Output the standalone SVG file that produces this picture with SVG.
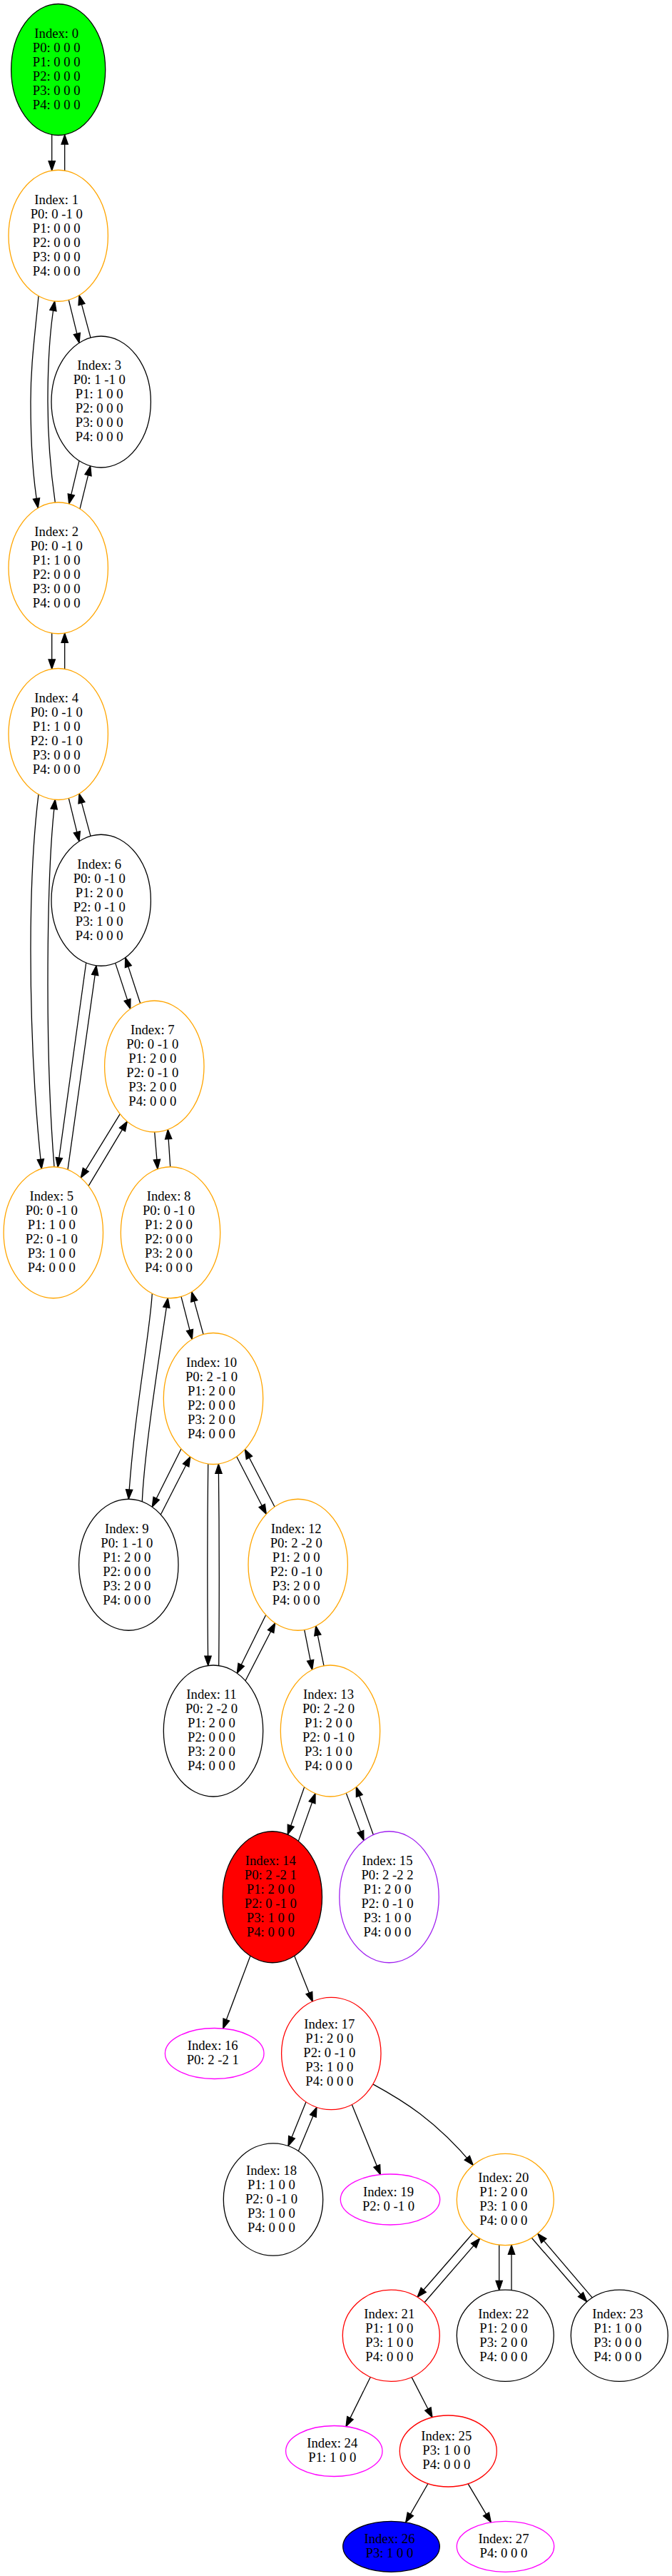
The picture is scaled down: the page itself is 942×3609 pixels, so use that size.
<svg xmlns="http://www.w3.org/2000/svg" width="942" height="3609" viewBox="0 0 942 3609">
<style>
.n ellipse{stroke-width:1.3}
.n text{font-family:"Liberation Serif","Times New Roman",serif;font-size:18.67px;text-anchor:middle;fill:#000}
.orange ellipse{stroke:#ffa500;fill:#fff}
.black ellipse{stroke:#000;fill:#fff}
.red ellipse{stroke:#ff0000;fill:#fff}
.mag ellipse{stroke:#ff00ff;fill:#fff}
.purple ellipse{stroke:#a020f0;fill:#fff}
#edges path{fill:none;stroke:#000;stroke-width:1.3;marker-end:url(#ah)}
</style>
<defs>
<marker id="ah" viewBox="0 0 14 10" refX="13.3" refY="5" markerWidth="14" markerHeight="10" orient="auto" markerUnits="userSpaceOnUse" overflow="visible">
<path d="M0,0.33 L13.3,5 L0,9.67 z" fill="#000" stroke="#000" stroke-width="1.3"/>
</marker>
</defs>
<rect width="942" height="3609" fill="#fff"/>
<g id="edges">
<path d="M72.7,188.8 L72.7,239"/>
<path d="M90.7,239 L90.7,188.8"/>
<path d="M96.3,420.2 L111,480.4"/>
<path d="M127,473.1 L111,413.7"/>
<path d="M54,414.7 C49,470 43,510 43,563 C43,615 46,670 53.3,711.6"/>
<path d="M77.3,703.9 C71,660 67,610 67,563 C67,510 70,460 76.7,422"/>
<path d="M111,645.6 L96.7,705.9"/>
<path d="M112,712.9 L126.7,652.8"/>
<path d="M72.7,887 L72.7,937.3"/>
<path d="M90.7,937.3 L90.7,887"/>
<path d="M96.3,1118.45 L111,1178.65"/>
<path d="M127,1171.35 L111,1111.95"/>
<path d="M54,1112.9 C47,1170 43,1240 43,1330 C43,1450 50,1560 58.3,1637.4"/>
<path d="M76,1634.75 C70,1560 67,1460 67,1380 C67,1260 70,1180 77.3,1120.3"/>
<path d="M120.7,1349 L81,1635.3"/>
<path d="M95,1638.7 L135,1352.8"/>
<path d="M161.7,1349.4 L182.7,1413.4"/>
<path d="M196.7,1405.7 L175.7,1341.6"/>
<path d="M168.3,1560.7 L113.3,1650.1"/>
<path d="M124,1661.6 L178.3,1571.1"/>
<path d="M216.7,1586 L221,1637.9"/>
<path d="M238.7,1634.75 L235.3,1582.5"/>
<path d="M254,1816.6 L269.3,1876.3"/>
<path d="M285,1869.4 L268.7,1810"/>
<path d="M213.3,1812.3 C210,1870 188,1980 180.3,2100.25"/>
<path d="M199.3,2103.7 C202,2040 220,1920 235.3,1818.6"/>
<path d="M254,2029.8 L213.3,2111.2"/>
<path d="M225.3,2122 L266.7,2041"/>
<path d="M291.7,2051 C290.5,2150 290.5,2240 291.7,2333.5"/>
<path d="M306.7,2333.5 C307.5,2240 307.5,2150 306.3,2051"/>
<path d="M331.7,2040.8 L373.3,2121.3"/>
<path d="M385,2111 L343.3,2030.5"/>
<path d="M372.7,2262.5 L332.3,2344.2"/>
<path d="M344,2354.7 L385.7,2273.9"/>
<path d="M426.7,2283.5 L437.7,2339.3"/>
<path d="M454,2333.8 L442.7,2278"/>
<path d="M426.7,2503.5 L403.3,2570.25"/>
<path d="M418.3,2579.35 L442,2512.7"/>
<path d="M485.3,2512.2 L510,2578.6"/>
<path d="M523.3,2570.5 L499.3,2503.5"/>
<path d="M351,2740 L312.7,2842"/>
<path d="M412.7,2740.2 L438.3,2804.5"/>
<path d="M429,2944.8 L404,3006.6"/>
<path d="M418.3,3013.7 L444,2952.2"/>
<path d="M493.3,2948.5 L533.3,3046.7"/>
<path d="M522.7,2919.9 C565,2943 610,2970 663.3,3033.4"/>
<path d="M662.7,3129 L585,3218.3"/>
<path d="M595,3225.7 L672.7,3136.1"/>
<path d="M699.7,3145.1 L699.7,3208.7"/>
<path d="M717,3208.7 L717,3145.1"/>
<path d="M745.3,3135.3 L822.7,3224.75"/>
<path d="M830.3,3219.1 L753.7,3129.2"/>
<path d="M519.3,3330.3 L485,3399.6"/>
<path d="M577,3330.4 L606,3386.8"/>
<path d="M600,3479.5 L568.7,3533.9"/>
<path d="M656,3479.65 L688.3,3533.9"/>
</g>
<g id="node0" class="n"><ellipse cx="81.7" cy="97.5" rx="66" ry="92" fill="#00ff00" stroke="#000"/><text><tspan x="79.2" y="52.9">Index: 0</tspan><tspan x="79.2" y="72.9">P0: 0 0 0</tspan><tspan x="79.2" y="92.9">P1: 0 0 0</tspan><tspan x="79.2" y="112.9">P2: 0 0 0</tspan><tspan x="79.2" y="132.9">P3: 0 0 0</tspan><tspan x="79.2" y="152.9">P4: 0 0 0</tspan></text></g>
<g id="node1" class="n orange"><ellipse cx="81.7" cy="330.25" rx="69.7" ry="92"/><text><tspan x="79.2" y="285.65">Index: 1</tspan><tspan x="79.2" y="305.65">P0: 0 -1 0</tspan><tspan x="79.2" y="325.65">P1: 0 0 0</tspan><tspan x="79.2" y="345.65">P2: 0 0 0</tspan><tspan x="79.2" y="365.65">P3: 0 0 0</tspan><tspan x="79.2" y="385.65">P4: 0 0 0</tspan></text></g>
<g id="node3" class="n black"><ellipse cx="141.7" cy="563" rx="69.7" ry="92"/><text><tspan x="139.2" y="518.4">Index: 3</tspan><tspan x="139.2" y="538.4">P0: 1 -1 0</tspan><tspan x="139.2" y="558.4">P1: 1 0 0</tspan><tspan x="139.2" y="578.4">P2: 0 0 0</tspan><tspan x="139.2" y="598.4">P3: 0 0 0</tspan><tspan x="139.2" y="618.4">P4: 0 0 0</tspan></text></g>
<g id="node2" class="n orange"><ellipse cx="81.7" cy="795.75" rx="69.7" ry="92"/><text><tspan x="79.2" y="751.15">Index: 2</tspan><tspan x="79.2" y="771.15">P0: 0 -1 0</tspan><tspan x="79.2" y="791.15">P1: 1 0 0</tspan><tspan x="79.2" y="811.15">P2: 0 0 0</tspan><tspan x="79.2" y="831.15">P3: 0 0 0</tspan><tspan x="79.2" y="851.15">P4: 0 0 0</tspan></text></g>
<g id="node4" class="n orange"><ellipse cx="81.7" cy="1028.5" rx="69.7" ry="92"/><text><tspan x="79.2" y="983.9">Index: 4</tspan><tspan x="79.2" y="1003.9">P0: 0 -1 0</tspan><tspan x="79.2" y="1023.9">P1: 1 0 0</tspan><tspan x="79.2" y="1043.9">P2: 0 -1 0</tspan><tspan x="79.2" y="1063.9">P3: 0 0 0</tspan><tspan x="79.2" y="1083.9">P4: 0 0 0</tspan></text></g>
<g id="node6" class="n black"><ellipse cx="141.7" cy="1261.25" rx="69.7" ry="92"/><text><tspan x="139.2" y="1216.65">Index: 6</tspan><tspan x="139.2" y="1236.65">P0: 0 -1 0</tspan><tspan x="139.2" y="1256.65">P1: 2 0 0</tspan><tspan x="139.2" y="1276.65">P2: 0 -1 0</tspan><tspan x="139.2" y="1296.65">P3: 1 0 0</tspan><tspan x="139.2" y="1316.65">P4: 0 0 0</tspan></text></g>
<g id="node7" class="n orange"><ellipse cx="216.3" cy="1494" rx="69.7" ry="92"/><text><tspan x="213.8" y="1449.4">Index: 7</tspan><tspan x="213.8" y="1469.4">P0: 0 -1 0</tspan><tspan x="213.8" y="1489.4">P1: 2 0 0</tspan><tspan x="213.8" y="1509.4">P2: 0 -1 0</tspan><tspan x="213.8" y="1529.4">P3: 2 0 0</tspan><tspan x="213.8" y="1549.4">P4: 0 0 0</tspan></text></g>
<g id="node5" class="n orange"><ellipse cx="74.8" cy="1726.75" rx="69.7" ry="92"/><text><tspan x="72.3" y="1682.15">Index: 5</tspan><tspan x="72.3" y="1702.15">P0: 0 -1 0</tspan><tspan x="72.3" y="1722.15">P1: 1 0 0</tspan><tspan x="72.3" y="1742.15">P2: 0 -1 0</tspan><tspan x="72.3" y="1762.15">P3: 1 0 0</tspan><tspan x="72.3" y="1782.15">P4: 0 0 0</tspan></text></g>
<g id="node8" class="n orange"><ellipse cx="239" cy="1726.75" rx="69.7" ry="92"/><text><tspan x="236.5" y="1682.15">Index: 8</tspan><tspan x="236.5" y="1702.15">P0: 0 -1 0</tspan><tspan x="236.5" y="1722.15">P1: 2 0 0</tspan><tspan x="236.5" y="1742.15">P2: 0 0 0</tspan><tspan x="236.5" y="1762.15">P3: 2 0 0</tspan><tspan x="236.5" y="1782.15">P4: 0 0 0</tspan></text></g>
<g id="node10" class="n orange"><ellipse cx="299" cy="1959.5" rx="69.7" ry="92"/><text><tspan x="296.5" y="1914.9">Index: 10</tspan><tspan x="296.5" y="1934.9">P0: 2 -1 0</tspan><tspan x="296.5" y="1954.9">P1: 2 0 0</tspan><tspan x="296.5" y="1974.9">P2: 0 0 0</tspan><tspan x="296.5" y="1994.9">P3: 2 0 0</tspan><tspan x="296.5" y="2014.9">P4: 0 0 0</tspan></text></g>
<g id="node9" class="n black"><ellipse cx="180.3" cy="2192.25" rx="69.7" ry="92"/><text><tspan x="177.8" y="2147.65">Index: 9</tspan><tspan x="177.8" y="2167.65">P0: 1 -1 0</tspan><tspan x="177.8" y="2187.65">P1: 2 0 0</tspan><tspan x="177.8" y="2207.65">P2: 0 0 0</tspan><tspan x="177.8" y="2227.65">P3: 2 0 0</tspan><tspan x="177.8" y="2247.65">P4: 0 0 0</tspan></text></g>
<g id="node12" class="n orange"><ellipse cx="417.7" cy="2192.25" rx="69.7" ry="92"/><text><tspan x="415.2" y="2147.65">Index: 12</tspan><tspan x="415.2" y="2167.65">P0: 2 -2 0</tspan><tspan x="415.2" y="2187.65">P1: 2 0 0</tspan><tspan x="415.2" y="2207.65">P2: 0 -1 0</tspan><tspan x="415.2" y="2227.65">P3: 2 0 0</tspan><tspan x="415.2" y="2247.65">P4: 0 0 0</tspan></text></g>
<g id="node11" class="n black"><ellipse cx="299" cy="2425" rx="69.7" ry="92"/><text><tspan x="296.5" y="2380.4">Index: 11</tspan><tspan x="296.5" y="2400.4">P0: 2 -2 0</tspan><tspan x="296.5" y="2420.4">P1: 2 0 0</tspan><tspan x="296.5" y="2440.4">P2: 0 0 0</tspan><tspan x="296.5" y="2460.4">P3: 2 0 0</tspan><tspan x="296.5" y="2480.4">P4: 0 0 0</tspan></text></g>
<g id="node13" class="n orange"><ellipse cx="463" cy="2425" rx="69.7" ry="92"/><text><tspan x="460.5" y="2380.4">Index: 13</tspan><tspan x="460.5" y="2400.4">P0: 2 -2 0</tspan><tspan x="460.5" y="2420.4">P1: 2 0 0</tspan><tspan x="460.5" y="2440.4">P2: 0 -1 0</tspan><tspan x="460.5" y="2460.4">P3: 1 0 0</tspan><tspan x="460.5" y="2480.4">P4: 0 0 0</tspan></text></g>
<g id="node14" class="n"><ellipse cx="381.8" cy="2657.75" rx="69.7" ry="92" fill="#ff0000" stroke="#000"/><text><tspan x="379.3" y="2613.15">Index: 14</tspan><tspan x="379.3" y="2633.15">P0: 2 -2 1</tspan><tspan x="379.3" y="2653.15">P1: 2 0 0</tspan><tspan x="379.3" y="2673.15">P2: 0 -1 0</tspan><tspan x="379.3" y="2693.15">P3: 1 0 0</tspan><tspan x="379.3" y="2713.15">P4: 0 0 0</tspan></text></g>
<g id="node15" class="n purple"><ellipse cx="545.5" cy="2657.75" rx="69.7" ry="92"/><text><tspan x="543" y="2613.15">Index: 15</tspan><tspan x="543" y="2633.15">P0: 2 -2 2</tspan><tspan x="543" y="2653.15">P1: 2 0 0</tspan><tspan x="543" y="2673.15">P2: 0 -1 0</tspan><tspan x="543" y="2693.15">P3: 1 0 0</tspan><tspan x="543" y="2713.15">P4: 0 0 0</tspan></text></g>
<g id="node16" class="n mag"><ellipse cx="300.7" cy="2877" rx="69.3" ry="35.5"/><text><tspan x="298.2" y="2872.4">Index: 16</tspan><tspan x="298.2" y="2892.4">P0: 2 -2 1</tspan></text></g>
<g id="node17" class="n red"><ellipse cx="464.3" cy="2877" rx="69.7" ry="78.6"/><text><tspan x="461.8" y="2842.4">Index: 17</tspan><tspan x="461.8" y="2862.4">P1: 2 0 0</tspan><tspan x="461.8" y="2882.4">P2: 0 -1 0</tspan><tspan x="461.8" y="2902.4">P3: 1 0 0</tspan><tspan x="461.8" y="2922.4">P4: 0 0 0</tspan></text></g>
<g id="node18" class="n black"><ellipse cx="383" cy="3081.5" rx="69.7" ry="78.6"/><text><tspan x="380.5" y="3046.9">Index: 18</tspan><tspan x="380.5" y="3066.9">P1: 1 0 0</tspan><tspan x="380.5" y="3086.9">P2: 0 -1 0</tspan><tspan x="380.5" y="3106.9">P3: 1 0 0</tspan><tspan x="380.5" y="3126.9">P4: 0 0 0</tspan></text></g>
<g id="node19" class="n mag"><ellipse cx="547" cy="3081.5" rx="69.7" ry="35.5"/><text><tspan x="544.5" y="3076.9">Index: 19</tspan><tspan x="544.5" y="3096.9">P2: 0 -1 0</tspan></text></g>
<g id="node20" class="n orange"><ellipse cx="708.3" cy="3081.5" rx="68" ry="64.1"/><text><tspan x="705.8" y="3056.9">Index: 20</tspan><tspan x="705.8" y="3076.9">P1: 2 0 0</tspan><tspan x="705.8" y="3096.9">P3: 1 0 0</tspan><tspan x="705.8" y="3116.9">P4: 0 0 0</tspan></text></g>
<g id="node21" class="n red"><ellipse cx="548.3" cy="3272.3" rx="68" ry="64.1"/><text><tspan x="545.8" y="3247.7">Index: 21</tspan><tspan x="545.8" y="3267.7">P1: 1 0 0</tspan><tspan x="545.8" y="3287.7">P3: 1 0 0</tspan><tspan x="545.8" y="3307.7">P4: 0 0 0</tspan></text></g>
<g id="node22" class="n black"><ellipse cx="708.3" cy="3272.3" rx="68" ry="64.1"/><text><tspan x="705.8" y="3247.7">Index: 22</tspan><tspan x="705.8" y="3267.7">P1: 2 0 0</tspan><tspan x="705.8" y="3287.7">P3: 2 0 0</tspan><tspan x="705.8" y="3307.7">P4: 0 0 0</tspan></text></g>
<g id="node23" class="n black"><ellipse cx="868.3" cy="3272.3" rx="68" ry="64.1"/><text><tspan x="865.8" y="3247.7">Index: 23</tspan><tspan x="865.8" y="3267.7">P1: 1 0 0</tspan><tspan x="865.8" y="3287.7">P3: 0 0 0</tspan><tspan x="865.8" y="3307.7">P4: 0 0 0</tspan></text></g>
<g id="node24" class="n mag"><ellipse cx="468.3" cy="3434" rx="67.7" ry="35.5"/><text><tspan x="465.8" y="3429.4">Index: 24</tspan><tspan x="465.8" y="3449.4">P1: 1 0 0</tspan></text></g>
<g id="node25" class="n red"><ellipse cx="628.3" cy="3434" rx="68" ry="50"/><text><tspan x="625.8" y="3419.4">Index: 25</tspan><tspan x="625.8" y="3439.4">P3: 1 0 0</tspan><tspan x="625.8" y="3459.4">P4: 0 0 0</tspan></text></g>
<g id="node26" class="n"><ellipse cx="548.5" cy="3567.8" rx="67.8" ry="35.5" fill="#0000ff" stroke="#000"/><text><tspan x="546" y="3563.2">Index: 26</tspan><tspan x="546" y="3583.2">P3: 1 0 0</tspan></text></g>
<g id="node27" class="n mag"><ellipse cx="708.5" cy="3567.8" rx="68.2" ry="35.5"/><text><tspan x="706" y="3563.2">Index: 27</tspan><tspan x="706" y="3583.2">P4: 0 0 0</tspan></text></g>
</svg>
